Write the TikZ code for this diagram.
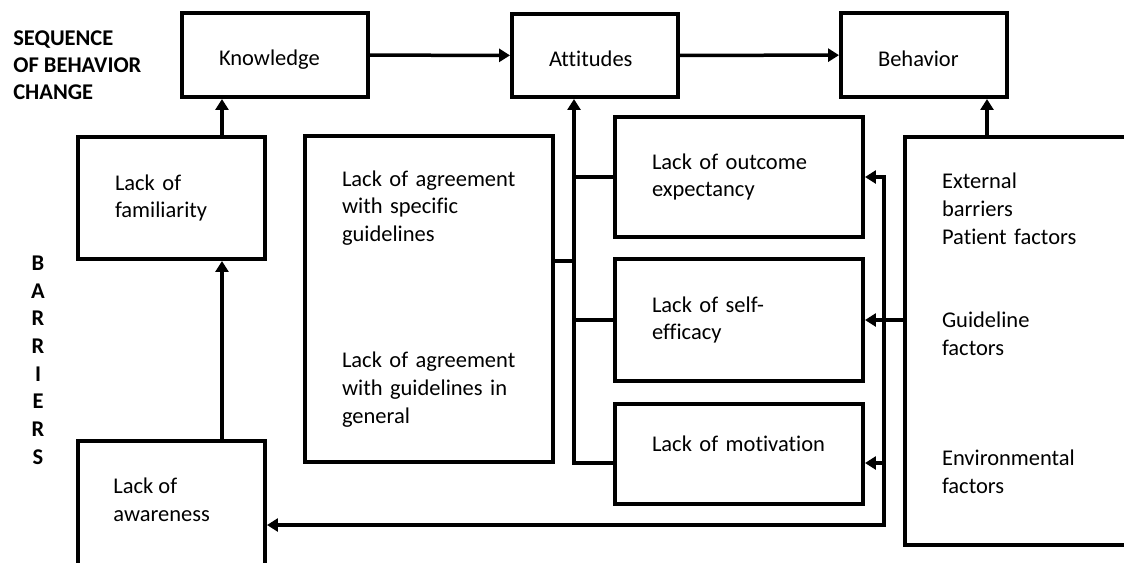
\documentclass[tikz,border=0pt]{standalone}
\usepackage{fontspec}
\setmainfont{Carlito}[Ligatures=NoCommon]
\usepackage{tikz}
\usetikzlibrary{
  arrows.meta,
  positioning
}
\tikzset{
    box/.style={draw, rectangle, line width=0.08cm, inner xsep=0.74cm, inner ysep=0pt, align=left, font=\fontsize{12.8}{15.9}\selectfont},
    oneline/.style={text height=#1, text depth=0pt},
    oneline/.default=9pt,
    txt/.style={inner sep=0pt, align=left, font=\fontsize{12.8}{15.9}\selectfont},
    link/.style={line width=0.07cm},
    arr/.style={link, ->},
    twoway/.style={link, <->}
}

\begin{document}
\begin{tikzpicture}[x=0.02cm, y=-0.02cm, >={Triangle[length=0.22cm, width=0.26cm]}]
    \useasboundingbox (0,0) rectangle (1124,562);

    % sequence row
    \node[txt, anchor=north west, font=\fontsize{12.8}{15.6}\selectfont\bfseries] (seq) at (13,30) {SEQUENCE\\OF BEHAVIOR\\CHANGE};
    \node[box, oneline=12pt, text width=2.24cm, minimum height=1.68cm] (know) at (275,55) {Knowledge};
    \node[box, oneline=12pt, text width=1.84cm, minimum height=1.66cm] (att) at (595,55.5) {Attitudes};
    \node[box, oneline=13pt, text width=1.84cm, minimum height=1.68cm] (beh) at (924,55) {Behavior};

    % barriers
    \node[txt, align=center, font=\fontsize{12.8}{15.75}\selectfont\bfseries] (bar) at (38,360) {B\\A\\R\\R\\I\\E\\R\\S};
    \node[box, text width=2.26cm, minimum height=2.44cm] (fam) at (171.5,198) {Lack of\\familiarity};
    \node[box, minimum width=3.74cm, minimum height=3.58cm] (awa) at (171.5,530.5) {};
    \node[txt, anchor=west, xshift=0.74cm] (awatxt) at (awa.west |- 0,500) {Lack of\\awareness};
    \node[box, text width=3.48cm, minimum height=6.52cm] (mid) at (429,299) {Lack of agreement\\with specific\\guidelines\\[1.96cm]Lack of agreement\\with guidelines in\\general};
    \node[box, text width=3.48cm, minimum height=2.4cm] (out) at (739,177) {Lack of outcome\\expectancy};
    \node[box, text width=3.48cm, minimum height=2.44cm] (eff) at (739,320) {Lack of self-\\efficacy};
    \node[box, text width=3.48cm, minimum height=2.0cm, text height=9pt, text depth=12pt] (mot) at (739,454) {Lack of motivation};
    \node[box, text width=3.62cm, minimum height=8.16cm, text height=9pt, text depth=183pt] (ext) at (1032.5,341) {External\\barriers\\Patient factors\\[1.12cm]Guideline\\factors\\[1.64cm]Environmental\\factors};

    % top row arrows
    \draw[arr] (know) -- (att);
    \draw[arr] (att) -- (beh);

    % left column
    \coordinate (famtop) at ([xshift=1.01cm]fam.north);
    \coordinate (awatop) at ([xshift=1.01cm]awa.north);
    \draw[arr] (famtop) -- (famtop |- know.south);
    \draw[arr] (awatop) -- (awatop |- fam.south);

    % spine into attitudes
    \coordinate (spine) at ([xshift=-0.42cm]att.south);
    \coordinate (motout) at ([yshift=-0.18cm]mot.west);
    \coordinate (midout) at ([yshift=0.76cm]mid.east);
    \draw[arr] (motout) -| (spine);
    \draw[link] (out.west) -- (out.west -| spine);
    \draw[link] (eff.west) -- (eff.west -| spine);
    \draw[link] (midout) -- (midout -| spine);

    % external barriers
    \coordinate (behin) at ([xshift=1.26cm]beh.south);
    \draw[arr] (behin |- ext.north) -- (behin);
    \draw[arr] (ext.west |- eff.east) -- (eff.east);
    \coordinate (rail) at (884,525);
    \coordinate (motin) at ([yshift=-0.18cm]mot.east);
    \draw[twoway] (out.east) -| (rail) -- (rail -| awa.east);
    \draw[arr] (rail |- motin) -- (motin);
\end{tikzpicture}
\end{document}
